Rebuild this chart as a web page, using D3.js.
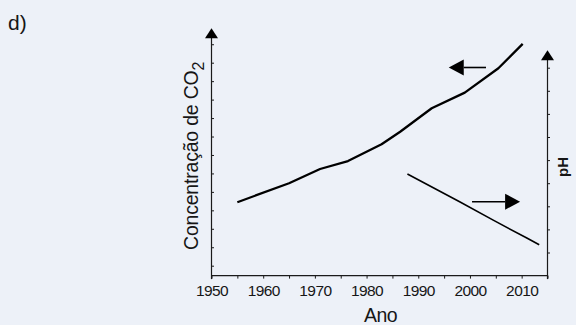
<!DOCTYPE html>
<html>
<head>
<meta charset="utf-8">
<script src="https://cdn.jsdelivr.net/npm/d3@7"></script>
<style>
  html, body { margin: 0; padding: 0; background: #edf1f8; }
  svg { display: block; }
  text { font-family: "Liberation Sans", Arial, Helvetica, sans-serif; fill: #161616; }
</style>
</head>
<body>
<svg id="chart" width="576" height="325"></svg>
<script>
// Years and readings for the two curves
const co2Years = [1955, 1965, 1971, 1976.4, 1982.9, 1986.5, 1992.6, 1999, 2005.5, 2010.2];
const co2Values = [334.4, 344.7, 352.4, 356.7, 365.8, 372.6, 385.3, 393.8, 407, 420.2];

const phYears = [1987.9, 1998, 2004.5, 2011, 2013.4];
const phValues = [7.988, 7.964, 7.948, 7.9325, 7.9267];

// Axis ticks (unlabelled on the value axes)
const yearTicks = [1950, 1955, 1960, 1965, 1970, 1975, 1980, 1985, 1990, 1995, 2000, 2005, 2010, 2015];
const co2Ticks = [300, 310, 320, 330, 340, 350, 360, 370, 380, 390, 400, 410, 420];
const phTicks = [7.92, 7.94, 7.96, 7.98, 8.00, 8.02, 8.04, 8.06, 8.08];

// Direction arrows telling which axis each curve belongs to
const co2ArrowYears = [2003.1, 1995.9];   // tail, tip
const co2ArrowValue = 407.4;
const phArrowYears = [2000.4, 2009.7];    // tail, tip
const phArrowValue = 7.964;

const svg = d3.select("#chart");
const ink = "#1a1a1a";

const x = d3.scaleLinear().domain([1950, 2015]).range([211.5, 547.5]);
const yCO2 = d3.scaleLinear().domain([300, 410]).range([265.7, 62.7]);
const yPH = d3.scaleLinear().domain([7.90, 8.08]).range([275.6, 67.7]);

const baseY = yPH(7.90);

// x axis
const xAxis = svg.append("g")
  .attr("transform", `translate(0,${baseY})`)
  .call(d3.axisBottom(x).tickValues(yearTicks).tickSize(3)
    .tickFormat(d => d % 10 === 0 && d < 2015 ? String(d) : ""));
xAxis.select(".domain").remove();
xAxis.selectAll(".tick line").attr("stroke", ink);
xAxis.selectAll(".tick text")
  .attr("y", 20.5).attr("dy", null)
  .style("font-size", "15.5px").style("letter-spacing", "-0.6px")
  .attr("fill", "#161616");
svg.append("line")
  .attr("x1", x(1950)).attr("x2", x(2015))
  .attr("y1", baseY).attr("y2", baseY)
  .attr("stroke", ink).attr("stroke-width", 1.2);

// left (CO2) axis, ticks pointing inwards
const leftAxis = svg.append("g")
  .attr("transform", `translate(${x(1950)},0)`)
  .call(d3.axisRight(yCO2).tickValues(co2Ticks).tickSize(2.5).tickFormat(""));
leftAxis.select(".domain").remove();
leftAxis.selectAll(".tick line").attr("stroke", ink);

// right (pH) axis
const rightAxis = svg.append("g")
  .attr("transform", `translate(${x(2015)},0)`)
  .call(d3.axisRight(yPH).tickValues(phTicks).tickSize(2.5).tickFormat(""));
rightAxis.select(".domain").remove();
rightAxis.selectAll(".tick line").attr("stroke", ink);

// vertical axis lines with arrow heads
function axisWithArrow(ax, tipY) {
  svg.append("line")
    .attr("x1", ax).attr("x2", ax)
    .attr("y1", baseY + 3.5).attr("y2", tipY + 8)
    .attr("stroke", ink).attr("stroke-width", 1.2);
  svg.append("path")
    .attr("d", `M${ax},${tipY} L${ax - 6.5},${tipY + 10} L${ax + 6.5},${tipY + 10} Z`)
    .attr("fill", "#000");
}
axisWithArrow(x(1950), yCO2(428.6));
axisWithArrow(x(2015), yPH(8.0952));

// curves
const co2Line = d3.line().x(d => x(d[0])).y(d => yCO2(d[1]));
svg.append("path")
  .datum(d3.zip(co2Years, co2Values))
  .attr("d", co2Line)
  .attr("fill", "none").attr("stroke", "#000")
  .attr("stroke-width", 2.3).attr("stroke-linejoin", "round");

const phLine = d3.line().x(d => x(d[0])).y(d => yPH(d[1]));
svg.append("path")
  .datum(d3.zip(phYears, phValues))
  .attr("d", phLine)
  .attr("fill", "none").attr("stroke", "#000")
  .attr("stroke-width", 1.6).attr("stroke-linejoin", "round");

// pointer arrows
function pointer(x0, x1, yy) {
  const dir = Math.sign(x1 - x0);
  const headLen = 15, half = 8;
  svg.append("line")
    .attr("x1", x0).attr("x2", x1 - dir * headLen)
    .attr("y1", yy).attr("y2", yy)
    .attr("stroke", "#000").attr("stroke-width", 1.6);
  svg.append("path")
    .attr("d", `M${x1},${yy} L${x1 - dir * headLen},${yy - half} L${x1 - dir * headLen},${yy + half} Z`)
    .attr("fill", "#000");
}
pointer(x(co2ArrowYears[0]), x(co2ArrowYears[1]), yCO2(co2ArrowValue));
pointer(x(phArrowYears[0]), x(phArrowYears[1]), yPH(phArrowValue));

// labels
svg.append("text")
  .attr("x", 8).attr("y", 30)
  .style("font-size", "21px")
  .text("d)");

svg.append("text")
  .attr("x", (x(1950) + x(2015)) / 2 + 1).attr("y", 322)
  .attr("text-anchor", "middle")
  .style("font-size", "19.5px").style("letter-spacing", "-0.6px")
  .text("Ano");

const yLabel = svg.append("text")
  .attr("transform", "translate(197.5,250) rotate(-90)")
  .style("font-size", "19.5px").style("letter-spacing", "-0.2px");
yLabel.append("tspan").text("Concentração de CO");
yLabel.append("tspan").attr("dy", 6).style("font-size", "16px").text("2");

svg.append("text")
  .attr("transform", "translate(567.5,167) rotate(-90)")
  .attr("text-anchor", "middle")
  .style("font-size", "15px").style("font-weight", "bold")
  .text("pH");
</script>
</body>
</html>
